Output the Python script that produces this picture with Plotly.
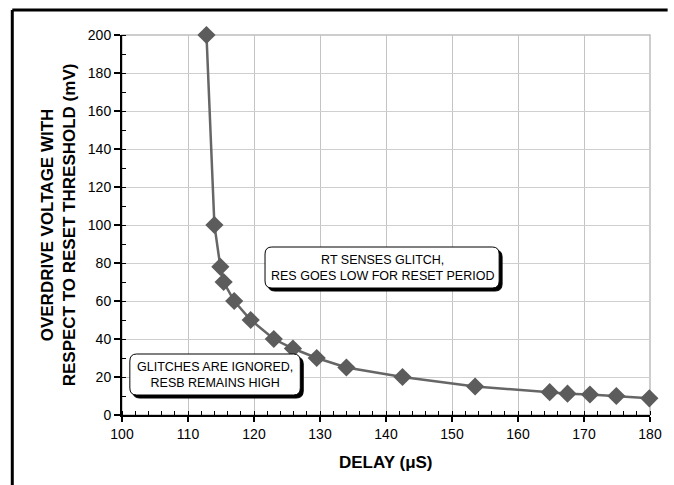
import plotly.graph_objects as go

# ---- data ----
delay_us = [112.8, 114.0, 114.9, 115.4, 117.0, 119.5, 123.0, 125.9, 129.5, 134.0,
            142.5, 153.5, 164.8, 167.5, 170.9, 174.9, 179.9]
overdrive_mv = [200, 100, 78, 70, 60, 50, 40, 35, 30, 25,
                20, 15, 12, 11.2, 10.8, 10, 8.8]
x_ticks = [100, 110, 120, 130, 140, 150, 160, 170, 180]
y_ticks = [0, 20, 40, 60, 80, 100, 120, 140, 160, 180, 200]
note_upper = "RT SENSES GLITCH,<br>RES GOES LOW FOR RESET PERIOD"
note_lower = "GLITCHES ARE IGNORED,<br>RESB REMAINS HIGH"
x_title = "DELAY (μS)"
y_title = "OVERDRIVE VOLTAGE WITH<br>RESPECT TO RESET THRESHOLD (mV)"

# ---- layout geometry ----
W, H = 674, 485
ML, MR, MT, MB = 122, 13, 35, 70
XR = [100, 180]
YR = [0, 200]
PW, PH = W - ML - MR, H - MT - MB
FONT = "Liberation Sans, Arial, sans-serif"


def px2x(px):
    return XR[0] + (px - ML) * (XR[1] - XR[0]) / PW


def px2y(py):
    return YR[0] + (H - MB - py) * (YR[1] - YR[0]) / PH


def rrect(l, t, r, b, rad=7):
    x0, x1 = px2x(l), px2x(r)
    y1, y0 = px2y(t), px2y(b)
    rx = rad * (XR[1] - XR[0]) / PW
    ry = rad * (YR[1] - YR[0]) / PH
    return (f"M {x0+rx},{y1} L {x1-rx},{y1} Q {x1},{y1} {x1},{y1-ry} "
            f"L {x1},{y0+ry} Q {x1},{y0} {x1-rx},{y0} L {x0+rx},{y0} "
            f"Q {x0},{y0} {x0},{y0+ry} L {x0},{y1-ry} Q {x0},{y1} {x0+rx},{y1} Z")


fig = go.Figure()
fig.add_trace(go.Scatter(
    x=delay_us, y=overdrive_mv, mode="lines+markers",
    line=dict(color="#666666", width=2.5),
    marker=dict(symbol="diamond", size=14, color="#5c5c5c"),
    showlegend=False, hoverinfo="skip", cliponaxis=False))

shapes = []
boxes = [(268, 247, 507, 288), (130, 354, 304, 395)]
for (l, t, r, b) in boxes:
    shapes.append(dict(type="path", path=rrect(l + 3, t + 3, r + 3, b + 3),
                       xref="x", yref="y", fillcolor="black",
                       line=dict(color="black", width=1), layer="above"))
    shapes.append(dict(type="path", path=rrect(l, t, r, b),
                       xref="x", yref="y", fillcolor="white",
                       line=dict(color="black", width=1), layer="above"))

# plot-area border (grey) and outer frame (top/left, black)
shapes.append(dict(type="rect", xref="paper", yref="paper", x0=0, y0=0, x1=1, y1=1,
                   line=dict(color="#bdbdbd", width=1.5), layer="below"))
fx = (10 - ML) / PW
fy = (H - MB - 10) / PH
shapes.append(dict(type="line", xref="paper", yref="paper", x0=fx, x1=(W + 5 - ML) / PW,
                   y0=fy, y1=fy, line=dict(color="black", width=3)))
shapes.append(dict(type="line", xref="paper", yref="paper", x0=fx, x1=fx,
                   y0=fy, y1=(H - MB - (H + 5)) / PH, line=dict(color="black", width=3)))

annotations = [
    dict(x=px2x((268 + 507) / 2), y=px2y((247 + 288) / 2), xref="x", yref="y",
         text=note_upper, showarrow=False, align="center",
         xanchor="center", yanchor="middle",
         font=dict(family=FONT, size=12.5, color="black")),
    dict(x=px2x((130 + 304) / 2), y=px2y((354 + 395) / 2), xref="x", yref="y",
         text=note_lower, showarrow=False, align="center",
         xanchor="center", yanchor="middle",
         font=dict(family=FONT, size=12.5, color="black")),
    dict(x=(392 - ML) / PW, y=(H - MB - 462) / PH, xref="paper", yref="paper",
         text=f"<b>{x_title}</b>", showarrow=False,
         xanchor="center", yanchor="middle",
         font=dict(family=FONT, size=17, color="black")),
    dict(x=(57 - ML) / PW, y=(H - MB - 225) / PH, xref="paper", yref="paper",
         text=f"<b>{y_title}</b>", showarrow=False, textangle=-90,
         xanchor="center", yanchor="middle",
         font=dict(family=FONT, size=17, color="black")),
]

fig.update_layout(
    width=W, height=H,
    margin=dict(l=ML, r=MR, t=MT, b=MB, pad=0),
    paper_bgcolor="white", plot_bgcolor="white",
    font=dict(family=FONT, size=14, color="black"),
    shapes=shapes, annotations=annotations,
    xaxis=dict(range=XR, tickvals=x_ticks, showgrid=True, gridcolor="#c4c4c4", gridwidth=1,
               showline=True, linecolor="black", linewidth=2, zeroline=False,
               ticks="outside", ticklen=5, tickwidth=1.5, tickcolor="black",
               minor=dict(dtick=2, ticks="inside", ticklen=4, tickwidth=1.2,
                          tickcolor="black", showgrid=False),
               tickfont=dict(family=FONT, size=14, color="black")),
    yaxis=dict(range=YR, tickvals=y_ticks, showgrid=True, gridcolor="#cfcfcf", gridwidth=1,
               showline=True, linecolor="black", linewidth=2, zeroline=False,
               ticks="outside", ticklen=6, tickwidth=1.5, tickcolor="black",
               minor=dict(dtick=10, ticks="inside", ticklen=4, tickwidth=1.2,
                          tickcolor="black", showgrid=False),
               tickfont=dict(family=FONT, size=14, color="black")),
)

fig.write_html("out.html", config={"displayModeBar": False},
               post_script="document.body.style.margin='0px';")
